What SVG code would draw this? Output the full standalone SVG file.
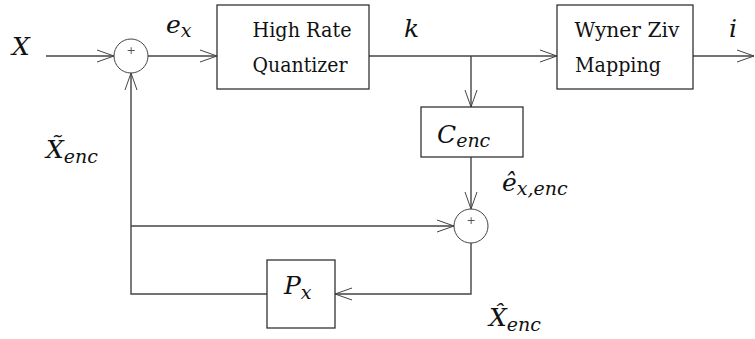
<svg xmlns="http://www.w3.org/2000/svg" width="755" height="339" viewBox="0 0 755 339">
<style>
.box{fill:#fff;stroke:#333;stroke-width:1.3}
.sum{fill:#fff;stroke:#444;stroke-width:1}
.wire{fill:none;stroke:#444;stroke-width:1.4}
.lbl{font-family:'DejaVu Serif',serif;font-size:20px;fill:#111}
.math{font-family:'DejaVu Serif',serif;font-style:italic;font-size:25px;fill:#111}
.sub{font-size:19px}
.plus{font-family:'DejaVu Sans',sans-serif;font-size:11px;fill:#555}
</style>
<defs>
<marker id="arr" markerUnits="userSpaceOnUse" markerWidth="19" markerHeight="14" refX="17" refY="7" orient="auto" viewBox="0 0 19 14">
<path d="M0,1 L17,7 L0,13" fill="none" stroke="#444" stroke-width="1"/>
</marker>
</defs>
<g id="connectors">
<path class="wire" d="M46,56 H114" marker-end="url(#arr)"/>
<path class="wire" d="M148,56 H217" marker-end="url(#arr)"/>
<path class="wire" d="M369,56 H557" marker-end="url(#arr)"/>
<path class="wire" d="M471,56 V107" marker-end="url(#arr)"/>
<path class="wire" d="M693,56 H754" marker-end="url(#arr)"/>
<path class="wire" d="M471,157 V209" marker-end="url(#arr)"/>
<path class="wire" d="M131,226 H454" marker-end="url(#arr)"/>
<path class="wire" d="M471,243 V294 H335" marker-end="url(#arr)"/>
<path class="wire" d="M267,294 H131 V73" marker-end="url(#arr)"/>
</g>
<g id="sum1">
<circle class="sum" cx="131" cy="56" r="17"/>
<text class="plus" x="131" y="54" text-anchor="middle">+</text>
</g>
<g id="hrq">
<rect class="box" x="217" y="5" width="152" height="84"/>
<text class="lbl" x="302" y="37" text-anchor="middle" textLength="99" lengthAdjust="spacingAndGlyphs">High Rate</text>
<text class="lbl" x="300" y="72" text-anchor="middle" textLength="95" lengthAdjust="spacingAndGlyphs">Quantizer</text>
</g>
<g id="wz">
<rect class="box" x="557" y="5" width="136" height="84"/>
<text class="lbl" x="627" y="37" text-anchor="middle" textLength="105" lengthAdjust="spacingAndGlyphs">Wyner Ziv</text>
<text class="lbl" x="618" y="72" text-anchor="middle" textLength="86" lengthAdjust="spacingAndGlyphs">Mapping</text>
</g>
<g id="cenc">
<rect class="box" x="421" y="107" width="102" height="50"/>
<text class="math" x="437" y="143">C<tspan class="sub" dy="4">enc</tspan></text>
</g>
<g id="sum2">
<circle class="sum" cx="471" cy="226" r="17"/>
<text class="plus" x="471" y="224" text-anchor="middle">+</text>
</g>
<g id="px">
<rect class="box" x="267" y="260" width="68" height="68"/>
<text class="math" x="284" y="294">P<tspan class="sub" dy="5">x</tspan></text>
</g>
<g id="labels">
<text class="math" x="12" y="55">X</text>
<text class="math" x="166" y="33">e<tspan class="sub" dy="4">x</tspan></text>
<text class="math" x="404" y="37">k</text>
<text class="math" x="729" y="37">i</text>
<text class="math" x="502" y="191">ê<tspan class="sub" dy="4">x,enc</tspan></text>
<text class="math" x="46" y="158">X̃<tspan class="sub" dy="5">enc</tspan></text>
<text class="math" x="489" y="326">X̂<tspan class="sub" dy="5">enc</tspan></text>
</g>
</svg>
